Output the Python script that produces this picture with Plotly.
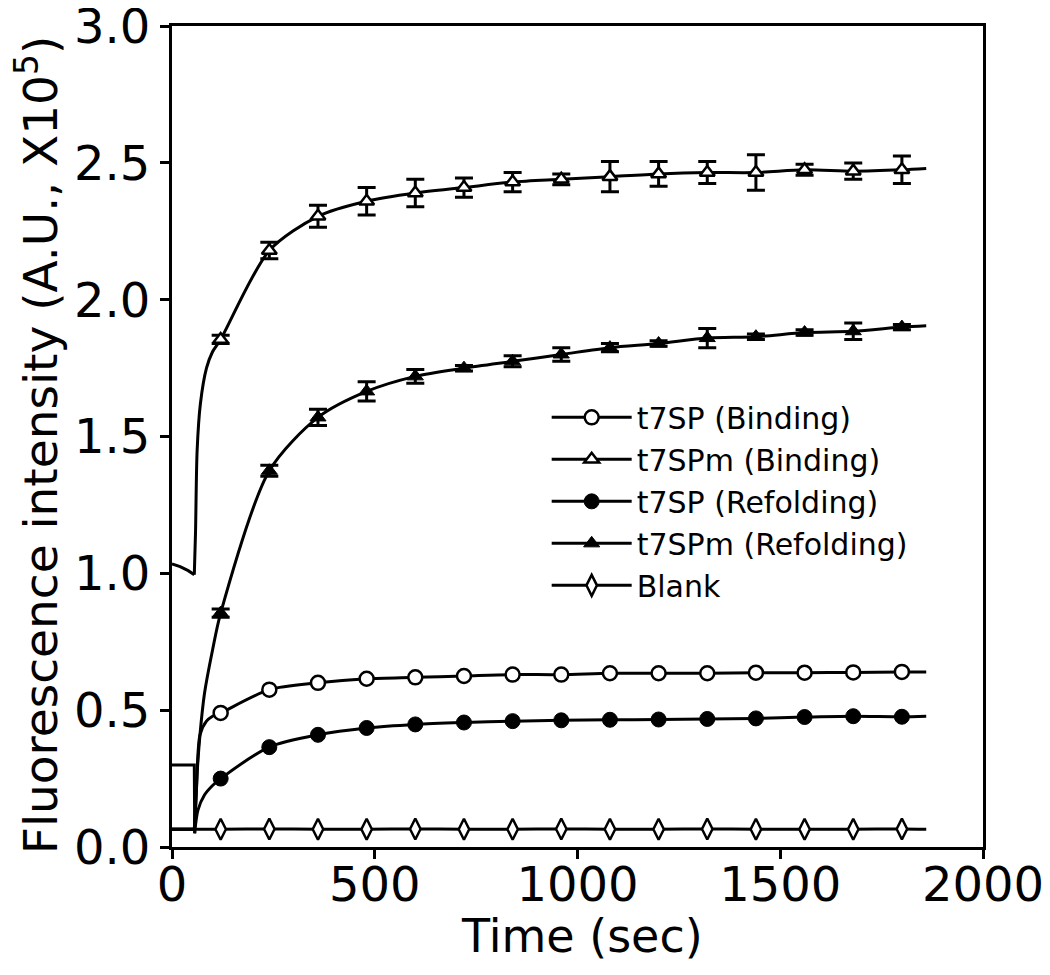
import plotly.graph_objects as go

# ---------------- data ----------------
marker_time = [120, 240, 360, 480, 600, 720, 840, 960, 1080, 1200, 1320, 1440, 1560, 1680, 1800]

t7SP_bind = [0.49, 0.575, 0.60, 0.615, 0.62, 0.625, 0.63, 0.63, 0.635, 0.635, 0.635, 0.637, 0.637, 0.638, 0.64]
t7SPm_bind = [1.855, 2.18, 2.305, 2.36, 2.39, 2.41, 2.43, 2.44, 2.45, 2.46, 2.465, 2.465, 2.475, 2.47, 2.475]
t7SPm_bind_err = [0.015, 0.03, 0.04, 0.05, 0.05, 0.035, 0.035, 0.02, 0.055, 0.045, 0.04, 0.065, 0.02, 0.03, 0.05]
t7SP_refold = [0.25, 0.365, 0.41, 0.435, 0.448, 0.455, 0.46, 0.463, 0.465, 0.466, 0.468, 0.47, 0.475, 0.478, 0.476]
t7SPm_refold = [0.855, 1.375, 1.57, 1.665, 1.72, 1.75, 1.775, 1.80, 1.825, 1.84, 1.86, 1.865, 1.88, 1.885, 1.90]
t7SPm_refold_err = [0.015, 0.02, 0.03, 0.035, 0.025, 0.01, 0.02, 0.025, 0.015, 0.01, 0.035, 0.01, 0.01, 0.03, 0.01]
blank = [0.065, 0.066, 0.065, 0.065, 0.066, 0.065, 0.065, 0.066, 0.065, 0.065, 0.066, 0.065, 0.065, 0.065, 0.066]

# pre-injection baselines (0-55 s) and the early rise just after injection
t7SP_bind_pre_t, t7SP_bind_pre_v = [0, 55], [0.065, 0.065]
t7SP_bind_rise_t, t7SP_bind_rise_v = [55, 60, 69, 85, 100], [0.065, 0.20, 0.41, 0.46, 0.478]
t7SP_bind_end = (1860, 0.64)

t7SPm_bind_pre_t, t7SPm_bind_pre_v = [0, 20, 40, 55], [1.035, 1.025, 1.01, 0.995]
t7SPm_bind_rise_t, t7SPm_bind_rise_v = [55, 58, 62, 70, 85, 100], [0.995, 1.15, 1.45, 1.62, 1.75, 1.81]
t7SPm_bind_end = (1860, 2.48)

t7SP_refold_pre_t, t7SP_refold_pre_v = [0, 55, 56], [0.30, 0.30, 0.05]
t7SP_refold_rise_t, t7SP_refold_rise_v = [56, 58, 64, 80, 100], [0.05, 0.08, 0.135, 0.19, 0.225]
t7SP_refold_end = (1860, 0.478)

t7SPm_refold_pre_t, t7SPm_refold_pre_v = [0, 55], [0.065, 0.065]
t7SPm_refold_rise_t, t7SPm_refold_rise_v = [55, 57, 62, 69, 80, 100], [0.065, 0.10, 0.27, 0.41, 0.56, 0.72]
t7SPm_refold_end = (1860, 1.905)

blank_pre_t, blank_pre_v = [0, 55], [0.065, 0.065]
blank_end = (1860, 0.065)

series_names = ["t7SP (Binding)", "t7SPm (Binding)", "t7SP (Refolding)", "t7SPm (Refolding)", "Blank"]

x_ticks = [0, 500, 1000, 1500, 2000]
y_ticks = [0.0, 0.5, 1.0, 1.5, 2.0, 2.5, 3.0]
x_title = "Time (sec)"
y_title = "Fluorescence intensity (A.U., X10<sup>5</sup>)"

# ---------------- styling ----------------
FONT = "DejaVu Sans"
LW = 3

series = [
    dict(name=series_names[0], vals=t7SP_bind, err=None,
         pre=(t7SP_bind_pre_t, t7SP_bind_pre_v), rise=(t7SP_bind_rise_t, t7SP_bind_rise_v), end=t7SP_bind_end,
         marker=dict(symbol="circle", size=14, color="white", line=dict(color="black", width=2.5))),
    dict(name=series_names[1], vals=t7SPm_bind, err=t7SPm_bind_err,
         pre=(t7SPm_bind_pre_t, t7SPm_bind_pre_v), rise=(t7SPm_bind_rise_t, t7SPm_bind_rise_v), end=t7SPm_bind_end,
         marker=dict(symbol="triangle-up", size=13, color="white", line=dict(color="black", width=2.5))),
    dict(name=series_names[2], vals=t7SP_refold, err=None,
         pre=(t7SP_refold_pre_t, t7SP_refold_pre_v), rise=(t7SP_refold_rise_t, t7SP_refold_rise_v), end=t7SP_refold_end,
         marker=dict(symbol="circle", size=15, color="black", line=dict(color="black", width=1))),
    dict(name=series_names[3], vals=t7SPm_refold, err=t7SPm_refold_err,
         pre=(t7SPm_refold_pre_t, t7SPm_refold_pre_v), rise=(t7SPm_refold_rise_t, t7SPm_refold_rise_v), end=t7SPm_refold_end,
         marker=dict(symbol="triangle-up", size=14, color="black", line=dict(color="black", width=1))),
    dict(name=series_names[4], vals=blank, err=None,
         pre=(blank_pre_t, blank_pre_v), rise=([55], [0.065]), end=blank_end,
         marker=dict(symbol="diamond-tall", size=15, color="white", line=dict(color="black", width=2.5))),
]

fig = go.Figure()

# lines
for s in series:
    fig.add_trace(go.Scatter(x=s["pre"][0], y=s["pre"][1], mode="lines",
                             line=dict(color="black", width=LW), showlegend=False, hoverinfo="skip"))
    xs = list(s["rise"][0]) + marker_time + [s["end"][0]]
    ys = list(s["rise"][1]) + s["vals"] + [s["end"][1]]
    fig.add_trace(go.Scatter(x=xs, y=ys, mode="lines",
                             line=dict(color="black", width=LW, shape="spline", smoothing=0.8),
                             showlegend=False, hoverinfo="skip"))

# markers with error bars
for s in series:
    ey = None
    if s["err"] is not None:
        ey = dict(type="data", array=s["err"], color="black", thickness=3, width=9, visible=True)
    fig.add_trace(go.Scatter(x=marker_time, y=s["vals"], mode="markers", marker=s["marker"],
                             error_y=ey, showlegend=False))

# legend entries
for s in series:
    fig.add_trace(go.Scatter(x=[None], y=[None], mode="lines+markers", name=s["name"],
                             line=dict(color="black", width=LW), marker=s["marker"]))

axis_common = dict(showline=True, linewidth=3, linecolor="black", mirror=True,
                   ticks="outside", ticklen=9, tickwidth=3, tickcolor="black",
                   showgrid=False, zeroline=False, automargin=False,
                   ticklabeloverflow="allow",
                   tickfont=dict(family=FONT, size=48, color="black"))

# page body has an 8px margin: figure is 1042x967 placed at (8, 8)
fig.update_layout(
    width=1042, height=967,
    margin=dict(l=164, r=67, t=18, b=128, autoexpand=False),
    paper_bgcolor="white", plot_bgcolor="white",
    font=dict(family=FONT, color="black"),
    xaxis=dict(range=[0, 2000], tickvals=x_ticks, ticklabelstandoff=-16, **axis_common),
    yaxis=dict(range=[0, 3.0005], tickvals=y_ticks, tickformat=".1f", **axis_common),
    legend=dict(x=0.462, y=0.555, xanchor="left", yanchor="top",
                font=dict(family=FONT, size=30, color="black"),
                bgcolor="rgba(0,0,0,0)", itemwidth=80, tracegroupgap=0),
    showlegend=True,
    annotations=[
        dict(text=x_title, xref="paper", yref="paper", x=0.505, y=-0.108,
             xanchor="center", yanchor="middle", showarrow=False,
             font=dict(family=FONT, size=46, color="black")),
        dict(text=y_title, xref="paper", yref="paper", x=-0.166, y=0.49,
             xanchor="center", yanchor="middle", showarrow=False, textangle=-90,
             font=dict(family=FONT, size=47, color="black")),
    ],
)

fig.write_html("out.html")
